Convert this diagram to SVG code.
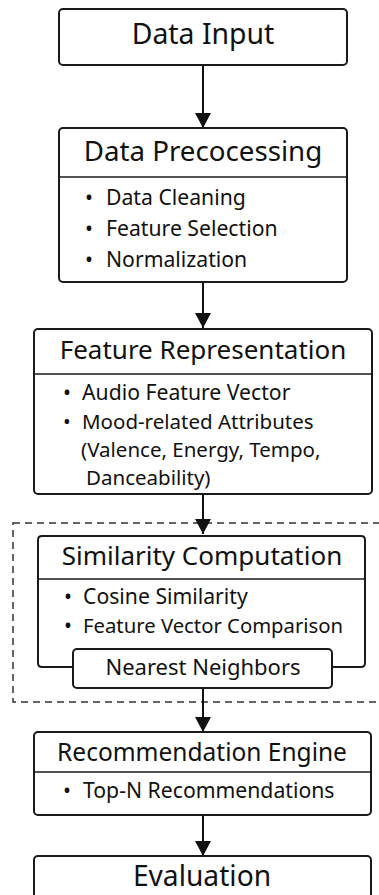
<svg xmlns="http://www.w3.org/2000/svg" width="379" height="895" viewBox="0 0 379 895">
  <defs>
    <marker id="arrow" markerUnits="userSpaceOnUse" markerWidth="16" markerHeight="16" viewBox="0 0 16 16" refX="15" refY="8" orient="auto">
      <path d="M0,0 L15,8 L0,16 Z" fill="#111"/>
    </marker>
    <style>
      .box { fill: #fff; stroke: #1a1a1a; stroke-width: 2; }
      .div { stroke: #1a1a1a; stroke-width: 1.6; }
      .group { fill: none; stroke: #333; stroke-width: 1.5; stroke-dasharray: 7 5; }
      .edge { stroke: #111; stroke-width: 2; fill: none; marker-end: url(#arrow); }
      .title { font-family: "Noto Sans", "Open Sans", sans-serif; font-size: 26px; fill: #111; text-anchor: middle; }
      .item { font-family: "Noto Sans", "Open Sans", sans-serif; font-size: 21.2px; fill: #111; }
      .item.sm { font-size: 20.5px; }
      .nn { font-family: "Noto Sans", "Open Sans", sans-serif; font-size: 22px; fill: #111; text-anchor: middle; }
    </style>
  </defs>
  <rect width="379" height="895" fill="#fff"/>

  <!-- dashed grouping frame around the similarity stage -->
  <rect class="group" x="13" y="523" width="380" height="179"/>

  <g id="connectors">
    <line class="edge" x1="203" y1="65" x2="203" y2="128"/>
    <line class="edge" x1="203" y1="282" x2="203" y2="328"/>
    <line class="edge" x1="203" y1="494" x2="203" y2="534"/>
    <line class="edge" x1="203" y1="688" x2="203" y2="732"/>
    <line class="edge" x1="203" y1="815" x2="203" y2="856"/>
  </g>

  <g id="data-input">
    <rect class="box" x="59" y="9" width="288" height="56" rx="4"/>
    <text class="title" x="203" y="44" style="font-size:28.4px">Data Input</text>
  </g>

  <g id="data-preprocessing">
    <rect class="box" x="59" y="128" width="288" height="154" rx="4"/>
    <line class="div" x1="59" y1="177" x2="347" y2="177"/>
    <text class="title" x="203" y="161" style="font-size:27.7px">Data Precocessing</text>
    <text class="item" x="85" y="205">•</text>
    <text class="item" x="106" y="205">Data Cleaning</text>
    <text class="item" x="85" y="236">•</text>
    <text class="item" x="106" y="236">Feature Selection</text>
    <text class="item" x="85" y="267">•</text>
    <text class="item" x="106" y="267">Normalization</text>
  </g>

  <g id="feature-representation">
    <rect class="box" x="34" y="329" width="338" height="165" rx="4"/>
    <line class="div" x1="34" y1="374" x2="372" y2="374"/>
    <text class="title" x="203" y="359">Feature Representation</text>
    <text class="item" x="63" y="400">•</text>
    <text class="item" x="82" y="400">Audio Feature Vector</text>
    <text class="item sm" x="63" y="429">•</text>
    <text class="item sm" x="82" y="429">Mood-related Attributes</text>
    <text class="item sm" x="81" y="457">(Valence, Energy, Tempo,</text>
    <text class="item sm" x="86" y="485">Danceability)</text>
  </g>

  <g id="similarity-computation">
    <path class="box" fill="none" d="M73,667 H42 Q38,667 38,663 V540 Q38,536 42,536 H361 Q365,536 365,540 V663 Q365,667 361,667 H332"/>
    <line class="div" x1="38" y1="579" x2="365" y2="579"/>
    <text class="title" x="202" y="565">Similarity Computation</text>
    <text class="item" x="64" y="604">•</text>
    <text class="item" x="83" y="604">Cosine Similarity</text>
    <text class="item" x="64" y="633">•</text>
    <text class="item" x="83" y="633" style="font-size:20.3px">Feature Vector Comparison</text>
  </g>

  <g id="nearest-neighbors">
    <rect class="box" x="73" y="649" width="259" height="39" rx="4"/>
    <text class="nn" x="203" y="675">Nearest Neighbors</text>
  </g>

  <g id="recommendation-engine">
    <rect class="box" x="34" y="732" width="337" height="83" rx="4"/>
    <line class="div" x1="34" y1="772" x2="371" y2="772"/>
    <text class="title" x="202" y="761" style="font-size:24.5px">Recommendation Engine</text>
    <text class="item" x="63" y="798">•</text>
    <text class="item" x="83" y="798">Top-N Recommendations</text>
  </g>

  <g id="evaluation">
    <rect class="box" x="34" y="856" width="337" height="60" rx="4"/>
    <text class="title" x="202" y="886" style="font-size:28.2px">Evaluation</text>
  </g>
</svg>
